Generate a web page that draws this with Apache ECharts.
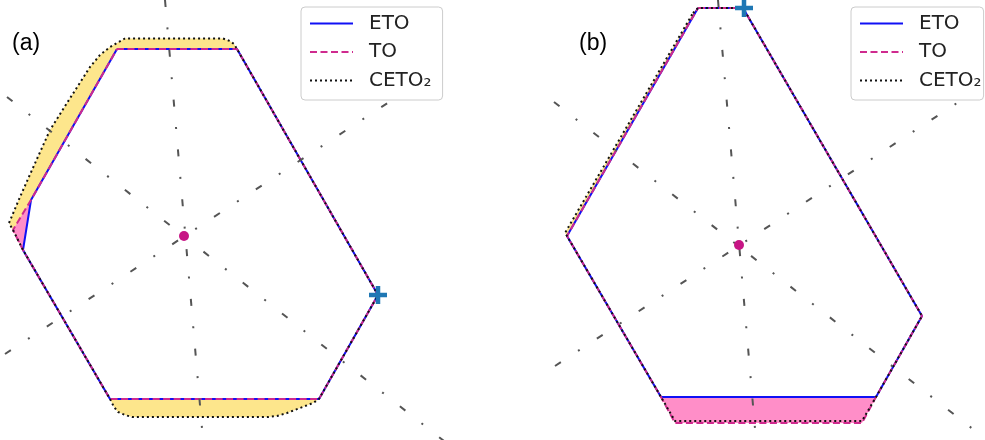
<!DOCTYPE html>
<html>
<head>
<meta charset="utf-8">
<script src="https://cdn.jsdelivr.net/npm/echarts@6/dist/echarts.min.js"></script>
<style>html,body{margin:0;padding:0;background:#fff}#c{width:985px;height:440px}</style>
</head>
<body>
<div id="c"></div>
<script>
// ---- Data (panel-local units, origin at the magenta centre dot, y up) ----
const seriesNames = ['ETO', 'TO', 'CETO\u2082'];
const panelLabels = ['(a)', '(b)'];

// Panel (a)
const etoA = [[-67,187],[53,187],[194,-59],[135,-163],[-74,-163],[-161,-14],[-153,36],[-67,187]];
const toA = [[-67,187],[53,187],[194,-59],[135,-163],[-74,-163],[-161,-14],[-171,6],[-153,36],[-67,187]];
const cetoA = [[-175,13],[-164,39],[-152,66],[-134,106],[-117,133],[-94,169],[-84,181],[-74,189],[-67,193],[-59,197.5],
  [39,197.5],[46,195],[50,192],[53,187],[194,-59],[135,-163],[129,-167],[116,-172],[103,-177],[93,-180],[84,-181],
  [-52,-181],[-59,-179],[-66,-176],[-70,-171],[-74,-163],[-161,-14],[-171,6],[-175,13]];
const centreA = [[0,0]];
const plusA = [[194,-59]];
const refLinesA = [
  [[-19,236],[19,-204]],
  [[-177,139],[260,-205]],
  [[-179,-118],[260,170]]
];

// Panel (b)
const etoB = [[-41,237],[4,237],[183,-71],[137,-152],[-78,-152],[-172,9],[-41,237]];
const toB = [[-41,237],[4,237],[183,-71],[137,-152],[123,-178],[-64,-178],[-78,-152],[-172,9],[-41,237]];
const cetoB = [[-46,232],[-41,237],[4,237],[183,-71],[137,-152],[123,-176],[-64,-176],[-78,-152],[-172,9],[-174,12],[-46,232]];
const centreB = [[0,0]];
const plusB = [[5,237]];
const refLinesB = [
  [[-21,245],[17,-195]],
  [[-185,143],[244,-192]],
  [[-184,-121],[244,159]]
];

// ---- Styles ----
const C_ETO = '#1010f5', C_TO = '#cf2a8e', C_CETO = '#111111';
const FILL_Y = '#fde68c', FILL_P = '#ff8ec8';
const PLUS = 'path://M3,0H5V3H8V5H5V8H3V5H0V3H3Z';

function fillSeries(ax, pts, color, z) {
  return {
    type: 'custom', xAxisIndex: ax, yAxisIndex: ax, data: pts, z: z, silent: true, clip: true,
    renderItem: function (params, api) {
      if (params.dataIndex !== 0) return null;
      const points = pts.map(p => api.coord(p));
      return { type: 'polygon', shape: { points: points }, style: { fill: color } };
    }
  };
}
function outline(ax, name, pts, color, type, z) {
  return {
    type: 'line', name: name, xAxisIndex: ax, yAxisIndex: ax, data: pts, symbol: 'none', z: z,
    lineStyle: { color: color, width: 2, type: type }, itemStyle: { color: color }, silent: true, clip: false
  };
}
function refLine(ax, pts) {
  return {
    type: 'line', xAxisIndex: ax, yAxisIndex: ax, data: pts, symbol: 'none', z: 20, silent: true, clip: true,
    lineStyle: { color: '#555555', width: 2, type: [7, 20.5, 2, 20.5] }
  };
}
function panelSeries(ax, eto, to, ceto, refs, centre, plus) {
  const s = [
    fillSeries(ax, ceto, FILL_Y, 1),
    fillSeries(ax, to, FILL_P, 2),
    fillSeries(ax, eto, '#ffffff', 3),
    outline(ax, seriesNames[0], eto, C_ETO, 'solid', 10),
    outline(ax, seriesNames[1], to, C_TO, [7, 3.5], 11),
    outline(ax, seriesNames[2], ceto, C_CETO, [2, 3], 12)
  ];
  refs.forEach(r => s.push(refLine(ax, r)));
  s.push({ type: 'scatter', xAxisIndex: ax, yAxisIndex: ax, data: centre, symbolSize: 10, z: 30,
    itemStyle: { color: '#c71585', opacity: 1 }, silent: true });
  s.push({ type: 'scatter', xAxisIndex: ax, yAxisIndex: ax, data: plus, symbol: PLUS, symbolSize: 18, z: 31,
    itemStyle: { color: '#1f77b4', opacity: 1 }, silent: true });
  return s;
}
function legendAt(left, padRight) {
  return {
    left: left, top: 7, orient: 'vertical', data: seriesNames,
    itemWidth: 43, itemHeight: 10, itemGap: 6.5,
    padding: [5.5, padRight, 8.5, 8],
    backgroundColor: '#ffffff', borderColor: '#cccccc', borderWidth: 1, borderRadius: 4,
    selectedMode: false, z: 50,
    itemStyle: { opacity: 0 },
    textStyle: { fontFamily: 'DejaVu Sans', fontSize: 20, lineHeight: 22, color: '#222222', padding: [0, 0, 0, 11] }
  };
}
const hiddenAxis = { type: 'value', show: false, splitLine: { show: false } };

const option = {
  animation: false,
  backgroundColor: '#ffffff',
  title: [
    { text: panelLabels[0], left: 12, top: 31, padding: 0,
      textStyle: { fontFamily: 'Liberation Sans', fontSize: 23, fontWeight: 'normal', color: '#000', lineHeight: 26 } },
    { text: panelLabels[1], left: 579, top: 31, padding: 0,
      textStyle: { fontFamily: 'Liberation Sans', fontSize: 23, fontWeight: 'normal', color: '#000', lineHeight: 26 } }
  ],
  legend: [legendAt(301, 11), legendAt(851, 2)],
  grid: [
    { left: 5, top: 0, width: 439, height: 440 },
    { left: 554, top: 0, width: 429, height: 440 }
  ],
  xAxis: [
    Object.assign({ gridIndex: 0, min: -179, max: 260 }, hiddenAxis),
    Object.assign({ gridIndex: 1, min: -185, max: 244 }, hiddenAxis)
  ],
  yAxis: [
    Object.assign({ gridIndex: 0, min: -204, max: 236 }, hiddenAxis),
    Object.assign({ gridIndex: 1, min: -195, max: 245 }, hiddenAxis)
  ],
  series: [].concat(
    panelSeries(0, etoA, toA, cetoA, refLinesA, centreA, plusA),
    panelSeries(1, etoB, toB, cetoB, refLinesB, centreB, plusB)
  )
};
const chart = echarts.init(document.getElementById('c'), null, { renderer: 'canvas' });
chart.setOption(option);
</script>
</body>
</html>
